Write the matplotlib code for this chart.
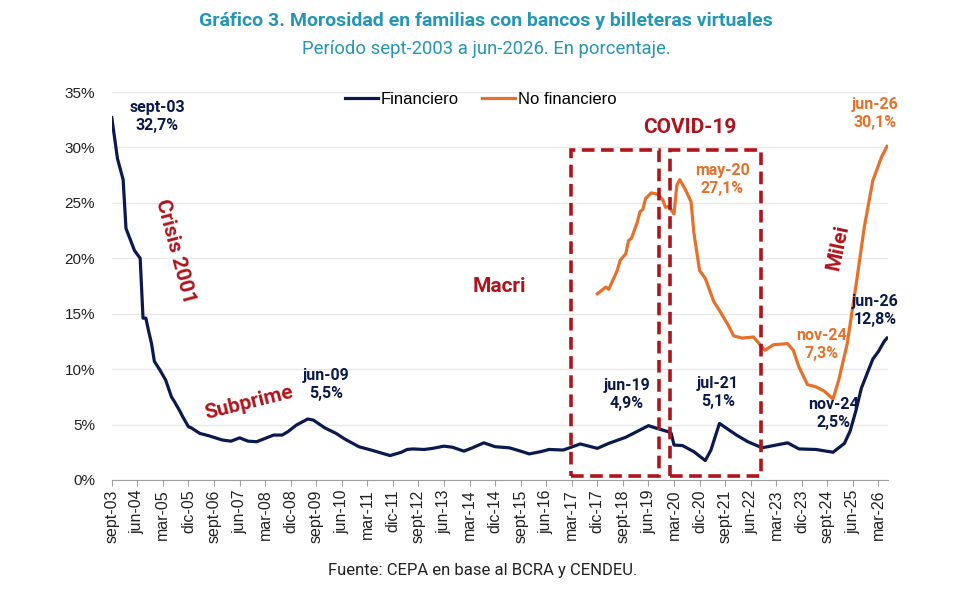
import matplotlib
matplotlib.use("Agg")
import matplotlib.pyplot as plt
from matplotlib.patches import Rectangle

plt.rcParams['font.family'] = ['Roboto', 'DejaVu Sans']

# Datos (fecha "AAAA-MM", porcentaje)
fin_dates = ["2003-09", "2003-11", "2004-01", "2004-02", "2004-05", "2004-07", "2004-08", "2004-09",
             "2004-10", "2004-11", "2004-12", "2005-02", "2005-04", "2005-06", "2005-07", "2005-09",
             "2005-10", "2005-12", "2006-01", "2006-04", "2006-07", "2006-12", "2007-03", "2007-06",
             "2007-09", "2007-12", "2008-03", "2008-06", "2008-09", "2008-11", "2009-02", "2009-06",
             "2009-08", "2009-12", "2010-04", "2010-07", "2010-12", "2011-05", "2011-11", "2012-03",
             "2012-05", "2012-07", "2012-11", "2013-02", "2013-06", "2013-09", "2014-01", "2014-04",
             "2014-08", "2014-12", "2015-05", "2015-09", "2015-12", "2016-04", "2016-07",
             "2016-12", "2017-06", "2017-12", "2018-04", "2018-10", "2019-06", "2019-09", "2020-01",
             "2020-02", "2020-03", "2020-06", "2020-10", "2021-02", "2021-04", "2021-07", "2022-01",
             "2022-05", "2022-10", "2023-07", "2023-11", "2024-05", "2024-11", "2025-03", "2025-05",
             "2025-07", "2025-09", "2025-11", "2026-01", "2026-03", "2026-05", "2026-06"]
fin_vals = [32.7, 29.0, 27.1, 22.7, 20.7, 20.0, 14.6, 14.6,
            13.4, 12.3, 10.7, 9.9, 9.0, 7.5, 7.1, 6.2,
            5.7, 4.8, 4.7, 4.2, 4.0, 3.6, 3.5, 3.8,
            3.5, 3.45, 3.75, 4.05, 4.05, 4.35, 4.95, 5.5,
            5.4, 4.7, 4.2, 3.7, 3.0, 2.65, 2.2, 2.5,
            2.75, 2.8, 2.75, 2.85, 3.05, 2.95, 2.6, 2.9,
            3.35, 3.0, 2.9, 2.6, 2.35, 2.55, 2.75,
            2.7, 3.25, 2.85, 3.3, 3.85, 4.9, 4.65, 4.35,
            4.2, 3.15, 3.1, 2.55, 1.75, 2.7, 5.1, 4.05,
            3.45, 2.9, 3.35, 2.8, 2.75, 2.5, 3.3, 4.4,
            6.2, 8.3, 9.6, 10.9, 11.6, 12.5, 12.8]

nofin_dates = ["2017-12", "2018-03", "2018-04", "2018-07", "2018-08", "2018-10", "2018-11", "2018-12",
               "2019-02", "2019-03", "2019-04", "2019-05", "2019-07", "2019-09", "2019-11", "2019-12",
               "2020-01", "2020-03", "2020-04", "2020-05", "2020-07", "2020-09", "2020-10", "2020-12",
               "2021-02", "2021-04", "2021-05", "2021-07", "2021-10", "2021-12", "2022-03", "2022-07",
               "2022-09", "2022-11", "2023-02", "2023-07", "2023-09", "2023-11", "2024-02", "2024-05",
               "2024-08", "2024-11", "2025-01", "2025-04", "2025-07", "2025-10", "2026-01", "2026-04",
               "2026-06"]
nofin_vals = [16.8, 17.4, 17.2, 18.9, 19.8, 20.4, 21.6, 21.8,
              23.2, 24.2, 24.4, 25.4, 25.9, 25.8, 25.3, 24.6,
              24.7, 24.0, 26.6, 27.1, 26.2, 25.1, 22.3, 18.9,
              18.2, 16.8, 16.1, 15.3, 14.0, 13.0, 12.8, 12.9,
              12.3, 11.7, 12.2, 12.3, 11.7, 10.2, 8.6, 8.4,
              8.0, 7.3, 9.0, 12.3, 17.4, 22.8, 27.0, 29.1,
              30.1]

tick_labels = ["sept-03", "jun-04", "mar-05", "dic-05", "sept-06", "jun-07", "mar-08", "dic-08",
               "sept-09", "jun-10", "mar-11", "dic-11", "sept-12", "jun-13", "mar-14", "dic-14",
               "sept-15", "jun-16", "mar-17", "dic-17", "sept-18", "jun-19", "mar-20", "dic-20",
               "sept-21", "jun-22", "mar-23", "dic-23", "sept-24", "jun-25", "mar-26"]

# periodos marcados con recuadro (inicio, fin)
covid_boxes = [("2017-03", "2019-09"), ("2020-02", "2022-09")]


def month_idx(s):
    y, m = s.split("-")
    return (int(y) - 2003) * 12 + (int(m) - 9)


NAVY = "#0b1a4e"
ORANGE = "#e8702a"
RED = "#b0141c"
TEAL = "#2596b5"
ARIAL = ['Liberation Sans', 'DejaVu Sans']

fig = plt.figure(figsize=(9.72, 5.94), dpi=100)
ax = fig.add_axes([0.115, 0.192, 0.799, 0.653])

x_fin = [month_idx(d) for d in fin_dates]
x_nofin = [month_idx(d) for d in nofin_dates]
ax.plot(x_fin, fin_vals, color=NAVY, lw=2.3, label="Financiero", solid_joinstyle="round")
ax.plot(x_nofin, nofin_vals, color=ORANGE, lw=2.3, label="No financiero", solid_joinstyle="round")

ax.set_xlim(0, 273.5)
ax.set_ylim(0, 35)
ax.set_yticks(range(0, 36, 5))
ax.set_yticklabels([f"{v}%" for v in range(0, 36, 5)], fontsize=11, family=ARIAL, color="#222222")
ax.set_xticks(range(0, 271, 9))
ax.set_xticklabels(tick_labels, rotation=90, fontsize=11.5, family=ARIAL, color="#222222")
ax.tick_params(axis="y", length=0, pad=12)
ax.tick_params(axis="x", length=4, color="#a0a0a0", pad=3)
ax.grid(axis="y", color="#e8e8e8", lw=1)
ax.set_axisbelow(True)
for s in ["top", "right", "left"]:
    ax.spines[s].set_visible(False)
ax.spines["bottom"].set_color("#a0a0a0")

# recuadros COVID
for start, end in covid_boxes:
    x0 = month_idx(start) - 0.3
    x1 = month_idx(end) + 0.7
    ax.add_patch(Rectangle((x0, 0.35), x1 - x0, 29.45, fill=False, ec=RED, lw=2.6,
                           ls=(0, (3.5, 1.8)), zorder=3))

lab = dict(ha="center", va="center", fontsize=11.5, fontweight="bold", linespacing=1.25)
ax.text(16, 32.8, "sept-03\n32,7%", color=NAVY, **lab)
ax.text(75.5, 8.6, "jun-09\n5,5%", color=NAVY, **lab)
ax.text(181.4, 7.7, "jun-19\n4,9%", color=NAVY, **lab)
ax.text(213.5, 7.85, "jul-21\n5,1%", color=NAVY, **lab)
ax.text(254, 6.0, "nov-24\n2,5%", color=NAVY, **lab)
ax.text(268.7, 15.3, "jun-26\n12,8%", color=NAVY, **lab)
ax.text(214.9, 27.1, "may-20\n27,1%", color=ORANGE, **lab)
ax.text(250.1, 12.2, "nov-24\n7,3%", color=ORANGE, **lab)
ax.text(268.7, 33.1, "jun-26\n30,1%", color=ORANGE, **lab)

ev = dict(ha="center", va="center", fontsize=15, fontweight="bold", color=RED)
ax.text(22.3, 20.6, "Crisis 2001", rotation=-75, **ev)
ax.text(48.3, 7.0, "Subprime", rotation=14, **ev)
ax.text(136.4, 17.5, "Macri", **ev)
ax.text(203.6, 31.8, "COVID-19", **ev)
ax.text(255.7, 21.0, "Milei", rotation=78, **ev)

ax.legend(loc="upper center", bbox_to_anchor=(0.475, 1.04), ncol=2, frameon=False,
          prop={'family': ARIAL, 'size': 12}, handlelength=2.0, handletextpad=0.15,
          columnspacing=1.4)

fig.text(0.5, 0.965, "Gráfico 3. Morosidad en familias con bancos y billeteras virtuales",
         ha="center", va="center", fontsize=14, fontweight="bold", color=TEAL)
fig.text(0.5, 0.918, "Período sept-2003 a jun-2026. En porcentaje.",
         ha="center", va="center", fontsize=13.3, color=TEAL)
fig.text(0.497, 0.04, "Fuente: CEPA en base al BCRA y CENDEU.", ha="center", va="center",
         fontsize=12, color="#222222")

fig.savefig("out.png", dpi=100)
